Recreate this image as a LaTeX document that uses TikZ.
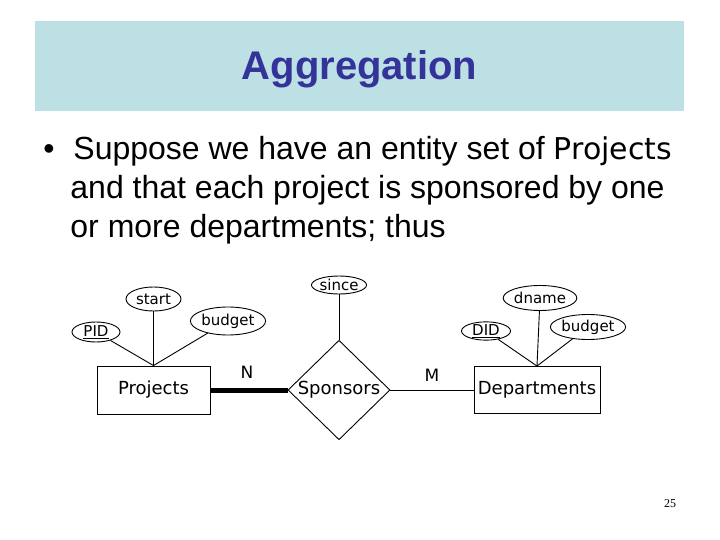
\documentclass[tikz,border=0pt]{standalone}
\usepackage{fontspec}
\setmainfont{Liberation Sans}
\newfontfamily\erfont{DejaVu Sans}
\newfontfamily\numfont{Liberation Serif}
\usetikzlibrary{shapes.geometric}
\definecolor{bandblue}{RGB}{188,224,228}
\definecolor{titleblue}{RGB}{51,51,153}
\tikzset{
  attr/.style={draw,ellipse,inner sep=0pt,font=\erfont\fontsize{15}{17}\selectfont},
  entity/.style={draw,rectangle,inner sep=0pt,font=\erfont\fontsize{18}{20}\selectfont},
  rel/.style={draw,diamond,inner sep=0pt,font=\erfont\fontsize{18}{20}\selectfont},
  card/.style={inner sep=0pt,font=\erfont\fontsize{17}{19}\selectfont},
  bodytext/.style={inner sep=0pt,anchor=base west,font=\fontsize{32}{36}\selectfont},
}
\begin{document}
\begin{tikzpicture}[line width=0.9pt]
    \def\x{1pt}
    \def\y{1pt}
    \useasboundingbox (0*\x,0*\y) rectangle (720*\x,-540*\y);
    % title band
    \fill[bandblue] (35*\x,-21*\y) rectangle (684*\x,-111*\y);
    \node (T0) at (359.5*\x,-80*\y) [anchor=base,inner sep=0pt,text=titleblue,
      font=\bfseries\fontsize{40}{44}\selectfont] {Aggregation};
    % bullet text
    \node (B0) at (43*\x,-160*\y) [bodytext] {\textbullet};
    \node (L0) at (73*\x,-160*\y) [bodytext] {Suppose we have an entity set of {\erfont\fontsize{30}{34}\selectfont Projects}};
    \node (L1) at (70*\x,-198.5*\y) [bodytext] {and that each project is sponsored by one};
    \node (L2) at (70*\x,-237.5*\y) [bodytext] {or more departments; thus};
    % entities and relationship
    \node (Proj) at (153.5*\x,-390*\y) [entity,minimum width=113*\x,minimum height=48*\y] {Projects};
    \node (Spons) at (339*\x,-390*\y) [rel,minimum width=102*\x,minimum height=81*\y] {Sponsors};
    \node (Dept) at (537*\x,-390*\y) [entity,minimum width=126*\x,minimum height=47*\y] {Departments};
    % attributes
    \node (PID) at (96*\x,-332*\y) [attr,minimum width=48*\x,minimum height=20*\y] {\underline{PID}};
    \node (Start) at (153.5*\x,-299*\y) [attr,minimum width=55*\x,minimum height=24*\y] {start};
    \node (BudP) at (228*\x,-321*\y) [attr,minimum width=62*\x,minimum height=28*\y] {budget};
    \node (Since) at (339*\x,-285*\y) [attr,minimum width=54*\x,minimum height=18*\y] {since};
    \node (DID) at (486*\x,-331*\y) [attr,minimum width=49*\x,minimum height=18*\y] {\underline{DID}};
    \node (Dname) at (540*\x,-298*\y) [attr,minimum width=60*\x,minimum height=25*\y] {dname};
    \node (BudD) at (588*\x,-327*\y) [attr,minimum width=62*\x,minimum height=25*\y] {budget};
    \path (PID) edge (Proj.north);
    \path (Start) edge (Proj.north);
    \path (BudP) edge (Proj.north);
    \path (Since) edge (Spons.north);
    \path (DID) edge (Dept.north);
    \path (Dname) edge (Dept.north);
    \path (BudD) edge (Dept.north);
    % participation
    \path (Proj.east) edge [line width=5pt] (Spons.west);
    \path (Spons.east) edge (Dept.west);
    \node (N) at (247*\x,-372*\y) [card] {N};
    \node (M) at (432*\x,-375*\y) [card] {M};
    \node (Pg) at (670*\x,-504*\y) [inner sep=0pt,font=\numfont\fontsize{12}{14}\selectfont] {25};
  \end{tikzpicture}
\end{document}
